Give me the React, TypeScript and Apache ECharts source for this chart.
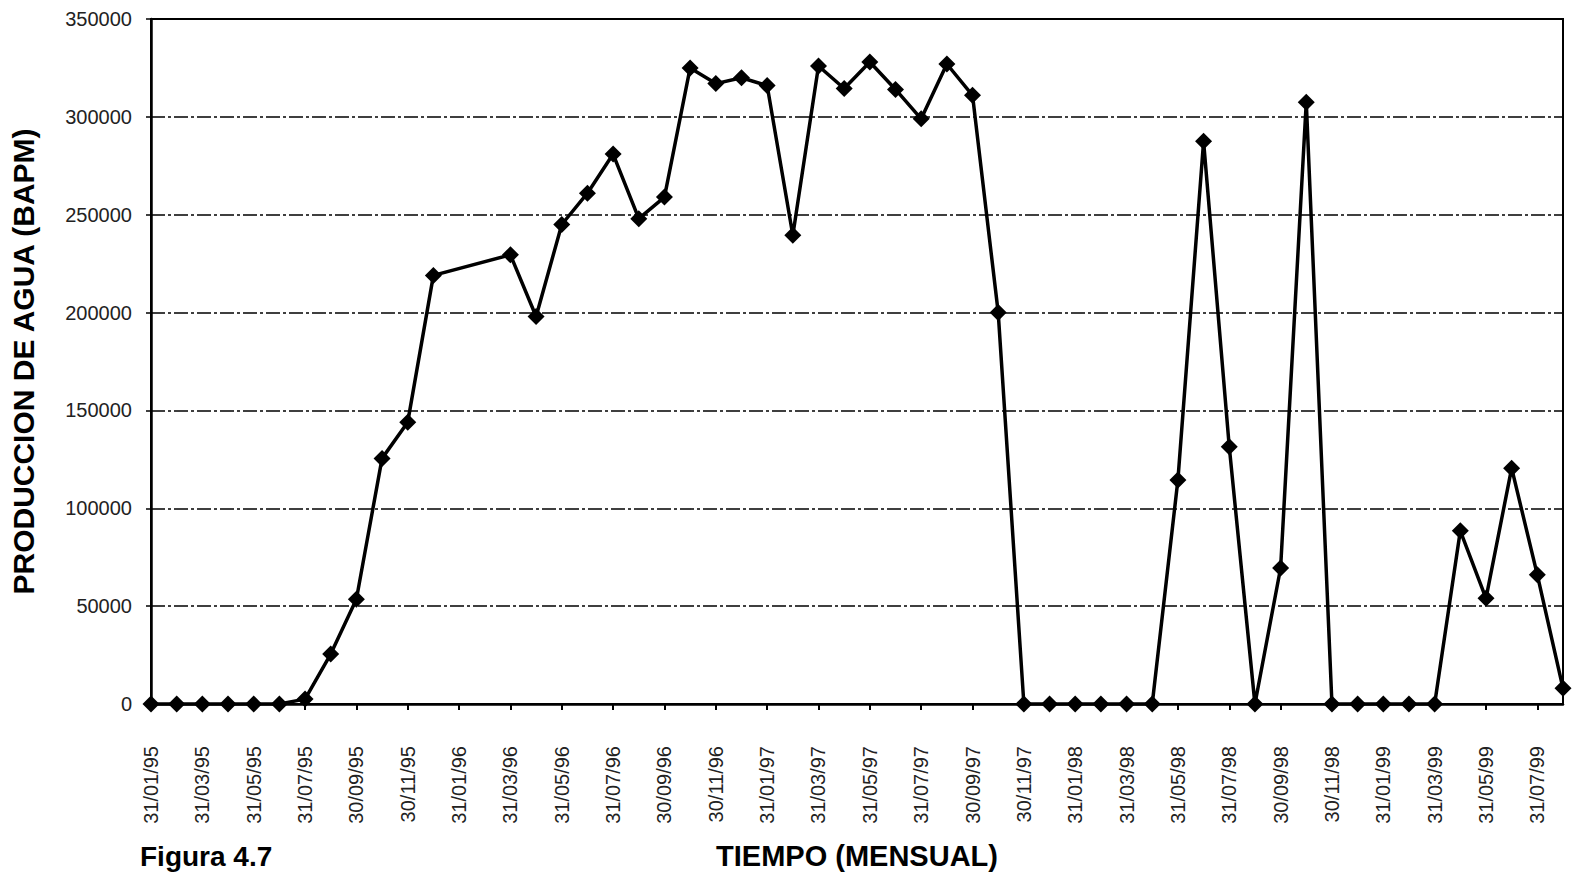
import React, { useEffect, useRef } from "react";
import * as echarts from "echarts";

const months: string[] = [
  "31/01/95", "28/02/95", "31/03/95", "30/04/95", "31/05/95", "30/06/95",
  "31/07/95", "31/08/95", "30/09/95", "31/10/95", "30/11/95", "31/12/95",
  "31/01/96", "29/02/96", "31/03/96", "30/04/96", "31/05/96", "30/06/96",
  "31/07/96", "31/08/96", "30/09/96", "31/10/96", "30/11/96", "31/12/96",
  "31/01/97", "28/02/97", "31/03/97", "30/04/97", "31/05/97", "30/06/97",
  "31/07/97", "31/08/97", "30/09/97", "31/10/97", "30/11/97", "31/12/97",
  "31/01/98", "28/02/98", "31/03/98", "30/04/98", "31/05/98", "30/06/98",
  "31/07/98", "31/08/98", "30/09/98", "31/10/98", "30/11/98", "31/12/98",
  "31/01/99", "28/02/99", "31/03/99", "30/04/99", "31/05/99", "30/06/99",
  "31/07/99", "31/08/99",
];

const waterProduction: (number | null)[] = [
  0, 0, 0, 0, 0, 0, 2500, 25500, 53500, 125500, 144000, 219000,
  null, null, 229500, 198000, 245000, 261000, 281000, 248000, 259000, 325000, 317000, 320000,
  316000, 239500, 326000, 314500, 328000, 314000, 299000, 327000, 311000, 200000, 0, 0,
  0, 0, 0, 0, 114500, 287500, 131500, 0, 69500, 307500, 0, 0,
  0, 0, 0, 88500, 54000, 120500, 66000, 8000,
];

const yTicks = { min: 0, max: 350000, interval: 50000 };

const xTitle = "TIEMPO (MENSUAL)";
const yTitle = "PRODUCCION DE AGUA (BAPM)";
const figureLabel = "Figura 4.7";

export default function App() {
  const ref = useRef<HTMLDivElement>(null);

  useEffect(() => {
    if (!ref.current) return;
    const chart = echarts.init(ref.current, undefined, { renderer: "svg" });
    const font = "'Liberation Sans', Arial, sans-serif";
    chart.setOption({
      animation: false,
      backgroundColor: "#ffffff",
      title: {
        text: figureLabel,
        left: 140,
        top: 842,
        padding: 0,
        textStyle: { fontFamily: font, fontSize: 28, fontWeight: "bold", color: "#000" },
      },
      grid: {
        left: 147,
        right: 9,
        top: 19,
        bottom: 170,
        show: true,
        borderColor: "#000",
        borderWidth: 2,
        containLabel: false,
      },
      xAxis: {
        type: "category",
        data: months,
        boundaryGap: false,
        name: xTitle,
        nameLocation: "middle",
        nameGap: 137,
        nameTextStyle: { fontFamily: font, fontSize: 29, fontWeight: "bold", color: "#000" },
        axisLine: { show: true, lineStyle: { color: "#000", width: 2.5 } },
        axisTick: { show: true, interval: 1, length: 6, lineStyle: { color: "#000", width: 2 } },
        axisLabel: {
          interval: 1,
          rotate: 90,
          margin: 42,
          fontFamily: font,
          fontSize: 20,
          color: "#222",
        },
        splitLine: { show: false },
      },
      yAxis: {
        type: "value",
        min: yTicks.min,
        max: yTicks.max,
        interval: yTicks.interval,
        name: yTitle,
        nameLocation: "middle",
        nameGap: 113,
        nameRotate: 90,
        nameTextStyle: { fontFamily: font, fontSize: 30, fontWeight: "bold", color: "#000" },
        axisLine: { show: true, lineStyle: { color: "#000", width: 2.5 } },
        axisTick: { show: true, length: 5, lineStyle: { color: "#000", width: 1.5 } },
        axisLabel: {
          margin: 19,
          fontFamily: font,
          fontSize: 20,
          color: "#222",
          formatter: (v: number) => String(v),
        },
        splitLine: {
          show: true,
          lineStyle: { color: "#000", width: 1.5, type: [14, 3, 3, 3] },
        },
      },
      series: [
        {
          type: "line",
          data: waterProduction,
          connectNulls: true,
          symbol: "diamond",
          symbolSize: 17,
          showSymbol: true,
          showAllSymbol: true,
          lineStyle: { color: "#000", width: 3.5 },
          itemStyle: { color: "#000" },
          z: 5,
        },
      ],
    });
    return () => chart.dispose();
  }, []);

  return (
    <div
      ref={ref}
      style={{ position: "fixed", left: 0, top: 0, width: 1572, height: 875, background: "#fff" }}
    />
  );
}
